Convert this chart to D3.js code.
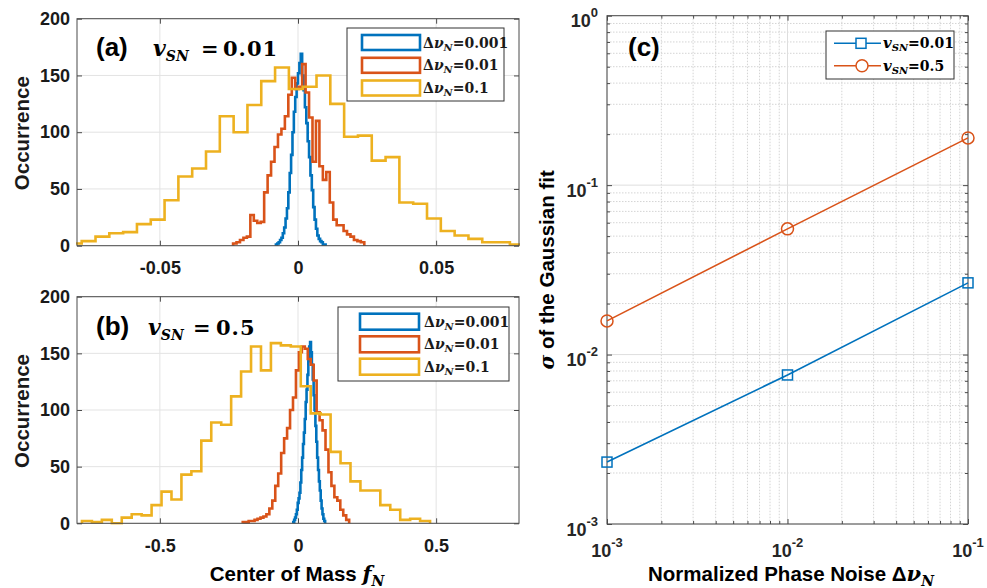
<!DOCTYPE html>
<html><head><meta charset="utf-8">
<script src="https://cdn.jsdelivr.net/npm/d3@7"></script>
<style>
body{margin:0;background:#fff}
text{font-family:"Liberation Sans",Arial,sans-serif;font-weight:bold;fill:#1a1a1a}
</style>
</head><body>
<svg id="chart" width="987" height="588"></svg>
<script>
// ---------------- DATA ----------------
const seriesLabels = ["0.001", "0.01", "0.1"];          // Δν_N values for histograms
const histColors = ["#0072BD", "#D95319", "#EDB120"];
const histYTicks = [0, 50, 100, 150, 200];

// panel (a): v_SN = 0.01   (bin start, bin width, counts)
const aBinStart = [-0.0080, -0.0235, -0.0833];
const aBinWidth = [0.0005, 0.00125, 0.005];
const aBlue = [1,2,3,5,7,11,16,24,33,47,64,80,100,118,131,143,152,161,169,150,137,122,108,92,78,62,49,34,23,15,9,6,4,3,1,1];
const aRed = [2,3,5,7,8,27,22,20,21,47,62,74,87,98,103,114,133,148,138,140,160,135,113,74,110,70,58,65,38,23,18,18,13,10,8,5,4,3];
const aYellow = [2,4,8,11,12,19,23,40,61,68,83,114,100,124,145,157,138,140,150,125,96,97,75,78,38,37,24,13,9,6,3,3,1];
const aXTicks = [-0.05, 0, 0.05];

// panel (b): v_SN = 0.5
const bBinStart = [-0.017, -0.2, -0.782];
const bBinWidth = [0.0032, 0.0107, 0.036];
const bBlue = [1,3,5,8,12,18,22,27,36,47,58,70,80,92,107,118,131,143,156,160,151,140,127,113,100,86,72,58,47,37,29,20,13,8,4,2];
const bRed = [1,1,2,2,3,4,5,6,8,13,20,33,44,62,75,84,100,111,135,151,156,154,145,140,126,98,91,82,65,45,33,23,20,12,7,3];
const bYellow = [2,1,3,0,5,8,7,16,28,21,43,46,73,89,87,112,134,156,135,159,157,156,121,97,96,63,53,37,29,29,16,12,3,4,2];
const bXTicks = [-0.5, 0, 0.5];

// panel (c)
const cNoise = [0.001, 0.01, 0.1];
const cSigmaV001 = [0.00232, 0.00758, 0.0265];
const cSigmaV05 = [0.0158, 0.0552, 0.190];
const cLegend = ["0.01", "0.5"];
const cColors = ["#0072BD", "#D95319"];

// ---------------- HELPERS ----------------
const svg = d3.select("#chart");
svg.append("rect").attr("width", 987).attr("height", 588).attr("fill", "#fff");
const SANS = '"Liberation Sans",Arial,sans-serif';
const SERIF = '"DejaVu Serif",serif';
const AX = "#4a4a4a";

function rich(parent, x, y, parts, anchor) {
  const t = parent.append("text").attr("x", x).attr("y", y).attr("text-anchor", anchor || "start");
  let shift = 0;
  parts.forEach(p => {
    const ts = t.append("tspan").text(p.t)
      .style("font-family", p.serif ? SERIF : SANS)
      .style("font-size", p.size + "px")
      .style("font-style", p.italic ? "italic" : "normal")
      .style("font-weight", "bold");
    const target = p.dy || 0;
    if (target !== shift) { ts.attr("dy", target - shift); shift = target; }
    if (p.x !== undefined) ts.attr("x", p.x);
    if (p.ls) ts.style("letter-spacing", p.ls + "px");
  });
  return t;
}

function stairs(start, width, counts) {
  const pts = [[start, 0]];
  counts.forEach((c, i) => { pts.push([start + i * width, c]); pts.push([start + (i + 1) * width, c]); });
  pts.push([start + counts.length * width, 0]);
  return pts;
}

const L = 77, R = 519;

function histPanel(cfg) {
  const g = svg.append("g");
  const x = d3.scaleLinear().domain(cfg.xDomain).range([L, R]);
  const y = d3.scaleLinear().domain([0, 200]).range([cfg.bottom, cfg.top]);
  // grid
  g.selectAll(null).data(cfg.xTicks).join("line")
    .attr("x1", d => x(d)).attr("x2", d => x(d)).attr("y1", cfg.top).attr("y2", cfg.bottom)
    .attr("stroke", "#e3e3e3").attr("stroke-width", 1);
  g.selectAll(null).data(histYTicks).join("line")
    .attr("x1", L).attr("x2", R).attr("y1", d => y(d)).attr("y2", d => y(d))
    .attr("stroke", "#e3e3e3").attr("stroke-width", 1);
  // clip
  const id = "clip" + cfg.id;
  svg.append("clipPath").attr("id", id).append("rect")
    .attr("x", L - 1).attr("y", cfg.top - 1).attr("width", R - L + 2).attr("height", cfg.bottom - cfg.top + 2.5);
  const line = d3.line().x(d => x(d[0])).y(d => y(d[1]));
  cfg.series.forEach((s, i) => {
    g.append("path").attr("d", line(stairs(s.start, s.width, s.counts)))
      .attr("fill", "none").attr("stroke", histColors[i]).attr("stroke-width", 2.6)
      .attr("stroke-linejoin", "miter").attr("clip-path", `url(#${id})`);
  });
  // axes
  const fmt = d => d === 0 ? "0" : String(d);
  const styleAxis = a => {
    a.select(".domain").remove();
    a.selectAll("line").attr("stroke", AX);
    a.selectAll("text").style("font-family", SANS).style("font-size", "18px").style("font-weight", "bold").attr("fill", "#262626");
  };
  g.append("g").attr("transform", `translate(0,${cfg.bottom})`)
    .call(d3.axisBottom(x).tickValues(cfg.xTicks).tickSize(-5).tickPadding(16).tickFormat(fmt)).call(styleAxis);
  g.append("g").attr("transform", `translate(0,${cfg.top})`)
    .call(d3.axisTop(x).tickValues(cfg.xTicks).tickSize(-5).tickFormat("")).call(styleAxis);
  g.append("g").attr("transform", `translate(${L},0)`)
    .call(d3.axisLeft(y).tickValues(histYTicks).tickSize(-5).tickPadding(7)).call(styleAxis);
  g.append("g").attr("transform", `translate(${R},0)`)
    .call(d3.axisRight(y).tickValues(histYTicks).tickSize(-5).tickFormat("")).call(styleAxis);
  g.append("rect").attr("x", L).attr("y", cfg.top).attr("width", R - L).attr("height", cfg.bottom - cfg.top)
    .attr("fill", "none").attr("stroke", AX).attr("stroke-width", 1);
  // y label
  g.append("text").attr("transform", `translate(29,${(cfg.top + cfg.bottom) / 2 + 1}) rotate(-90)`)
    .attr("text-anchor", "middle").style("font-size", "20.5px").text("Occurrence");
  // legend
  const lg = cfg.legend;
  g.append("rect").attr("x", lg.x).attr("y", lg.y).attr("width", lg.w).attr("height", lg.h)
    .attr("fill", "#fff").attr("stroke", "#333").attr("stroke-width", 1);
  seriesLabels.forEach((lab, i) => {
    const cy = lg.rows[i];
    g.append("rect").attr("x", lg.rx).attr("y", cy - lg.rh / 2).attr("width", lg.rw).attr("height", lg.rh)
      .attr("fill", "none").attr("stroke", histColors[i]).attr("stroke-width", 2.6);
    rich(g, lg.tx, cy + 5, [
      { t: "Δ", serif: true, size: 14 },
      { t: "ν", serif: true, italic: true, size: 14 },
      { t: "N", serif: true, italic: true, size: 10, dy: 3 },
      { t: "=" + lab, serif: true, size: 14, dy: 0 }
    ]);
  });
  // annotation
  rich(g, cfg.ann.x, cfg.ann.y, [{ t: cfg.ann.label, size: 26 }]).style("fill", "#000");
  rich(g, cfg.ann.vx, cfg.ann.y, [
    { t: "v", serif: true, italic: true, size: 22 },
    { t: "SN", serif: true, italic: true, size: 14, dy: 5 },
    { t: "=", serif: true, size: 21, dy: 0, x: cfg.ann.ex },
    { t: cfg.ann.val, serif: true, size: 21, x: cfg.ann.nx, ls: 1 }
  ]).style("fill", "#000");
  return { x, y };
}

histPanel({
  id: "a", xDomain: [-0.08, 0.08], top: 18.7, bottom: 245.7, xTicks: aXTicks,
  series: [0, 1, 2].map(i => ({ start: aBinStart[i], width: aBinWidth[i], counts: [aBlue, aRed, aYellow][i] })),
  legend: { x: 347, y: 28, w: 157, h: 73, rx: 362, rw: 58, rh: 15, rows: [42.5, 65.3, 88], tx: 423 },
  ann: { label: "(a)", x: 96, y: 56, vx: 153, ex: 201, nx: 223, val: "0.01" }
});
histPanel({
  id: "b", xDomain: [-0.8, 0.8], top: 296.7, bottom: 523.3, xTicks: bXTicks,
  series: [0, 1, 2].map(i => ({ start: bBinStart[i], width: bBinWidth[i], counts: [bBlue, bRed, bYellow][i] })),
  legend: { x: 338, y: 307, w: 171, h: 74, rx: 360, rw: 59, rh: 16, rows: [321.7, 344.3, 366.7], tx: 424 },
  ann: { label: "(b)", x: 96, y: 335, vx: 148, ex: 193, nx: 216, val: "0.5" }
});

// shared x label
rich(svg, 297, 580.5, [
  { t: "Center of Mass ", size: 20.5 },
  { t: "f", serif: true, italic: true, size: 21 },
  { t: "N", serif: true, italic: true, size: 14, dy: 5 }
], "middle").style("fill", "#000");

// ---------------- PANEL (c) ----------------
(function () {
  const cl = 607, cr = 968, ct = 15.7, cb = 524;
  const g = svg.append("g");
  const x = d3.scaleLog().domain([1e-3, 1e-1]).range([cl, cr]);
  const y = d3.scaleLog().domain([1e-3, 1]).range([cb, ct]);
  const isMajor = v => Math.abs(Math.log10(v) - Math.round(Math.log10(v))) < 1e-6;
  const xAll = x.ticks(), yAll = y.ticks();
  const xMaj = xAll.filter(isMajor), yMaj = yAll.filter(isMajor);
  const xMin = xAll.filter(v => !isMajor(v)), yMin = yAll.filter(v => !isMajor(v));
  // minor grid (dotted)
  g.selectAll(null).data(xMin).join("line").attr("x1", d => x(d)).attr("x2", d => x(d)).attr("y1", ct).attr("y2", cb)
    .attr("stroke", "#d4d4d4").attr("stroke-dasharray", "1.5,1.5");
  g.selectAll(null).data(yMin).join("line").attr("y1", d => y(d)).attr("y2", d => y(d)).attr("x1", cl).attr("x2", cr)
    .attr("stroke", "#d4d4d4").attr("stroke-dasharray", "1.5,1.5");
  // major grid
  g.selectAll(null).data(xMaj).join("line").attr("x1", d => x(d)).attr("x2", d => x(d)).attr("y1", ct).attr("y2", cb)
    .attr("stroke", "#dedede");
  g.selectAll(null).data(yMaj).join("line").attr("y1", d => y(d)).attr("y2", d => y(d)).attr("x1", cl).attr("x2", cr)
    .attr("stroke", "#dedede");
  // ticks via axes (major + minor)
  const noLab = a => { a.select(".domain").remove(); a.selectAll("line").attr("stroke", AX); a.selectAll("text").remove(); };
  [[d3.axisBottom, cb], [d3.axisTop, ct]].forEach(([f, pos]) => {
    g.append("g").attr("transform", `translate(0,${pos})`).call(f(x).tickValues(xMaj).tickSize(-5)).call(noLab);
    g.append("g").attr("transform", `translate(0,${pos})`).call(f(x).tickValues(xMin).tickSize(-3)).call(noLab);
  });
  [[d3.axisLeft, cl], [d3.axisRight, cr]].forEach(([f, pos]) => {
    g.append("g").attr("transform", `translate(${pos},0)`).call(f(y).tickValues(yMaj).tickSize(-5)).call(noLab);
    g.append("g").attr("transform", `translate(${pos},0)`).call(f(y).tickValues(yMin).tickSize(-3)).call(noLab);
  });
  // tick labels with superscripts
  const expOf = v => Math.round(Math.log10(v));
  xMaj.forEach(v => {
    const e = expOf(v);
    rich(g, x(v), 556.5, [{ t: "10", size: 18 }, { t: e === 0 ? "0" : "-" + Math.abs(e), size: 13, dy: -10 }], "middle").style("fill", "#262626");
  });
  yMaj.forEach(v => {
    const e = expOf(v);
    rich(g, 598, y(v) + 11.5, [{ t: "10", size: 18 }, { t: e === 0 ? "0" : "-" + Math.abs(e), size: 13, dy: -10 }], "end").style("fill", "#262626");
  });
  g.append("rect").attr("x", cl).attr("y", ct).attr("width", cr - cl).attr("height", cb - ct)
    .attr("fill", "none").attr("stroke", AX);
  // lines + markers
  const series = [cSigmaV001, cSigmaV05];
  const line = d3.line().x((d, i) => x(cNoise[i])).y(d => y(d));
  series.forEach((s, k) => {
    g.append("path").attr("d", line(s)).attr("fill", "none").attr("stroke", cColors[k]).attr("stroke-width", 1.6);
  });
  g.selectAll(null).data(cSigmaV001).join("rect")
    .attr("x", (d, i) => x(cNoise[i]) - 5).attr("y", d => y(d) - 5).attr("width", 10).attr("height", 10)
    .attr("fill", "none").attr("stroke", cColors[0]).attr("stroke-width", 1.5);
  g.selectAll(null).data(cSigmaV05).join("circle")
    .attr("cx", (d, i) => x(cNoise[i])).attr("cy", d => y(d)).attr("r", 6)
    .attr("fill", "none").attr("stroke", cColors[1]).attr("stroke-width", 1.5);
  // legend
  g.append("rect").attr("x", 826).attr("y", 31).attr("width", 128).attr("height", 48)
    .attr("fill", "#fff").attr("stroke", "#333");
  const rows = [43.3, 65.7];
  cLegend.forEach((lab, k) => {
    const cy = rows[k];
    g.append("line").attr("x1", 834).attr("x2", 881).attr("y1", cy).attr("y2", cy).attr("stroke", cColors[k]).attr("stroke-width", 1.6);
    if (k === 0) g.append("rect").attr("x", 856).attr("y", cy - 5).attr("width", 10).attr("height", 10).attr("fill", "#fff").attr("stroke", cColors[k]).attr("stroke-width", 1.5);
    else g.append("circle").attr("cx", 862).attr("cy", cy).attr("r", 6).attr("fill", "#fff").attr("stroke", cColors[k]).attr("stroke-width", 1.5);
    rich(g, 883, cy + 5, [
      { t: "v", serif: true, italic: true, size: 15 },
      { t: "SN", serif: true, italic: true, size: 10, dy: 3 },
      { t: "=" + lab, serif: true, size: 14, dy: 0 }
    ]).style("fill", "#000");
  });
  rich(g, 628, 56, [{ t: "(c)", size: 26 }]).style("fill", "#000");
  // axis labels
  const yl = g.append("g").attr("transform", `translate(554,${(ct + cb) / 2}) rotate(-90)`);
  rich(yl, 0, 0, [{ t: "σ", serif: true, italic: true, size: 20 }, { t: " of the Gaussian fit", size: 20.5 }], "middle").style("fill", "#000");
  rich(g, 648, 581, [
    { t: "Normalized Phase Noise ", size: 20.5 },
    { t: "Δ", size: 20.5 },
    { t: "ν", serif: true, italic: true, size: 21 },
    { t: "N", serif: true, italic: true, size: 14, dy: 5 }
  ]).style("fill", "#000");
})();
</script>
</body></html>
